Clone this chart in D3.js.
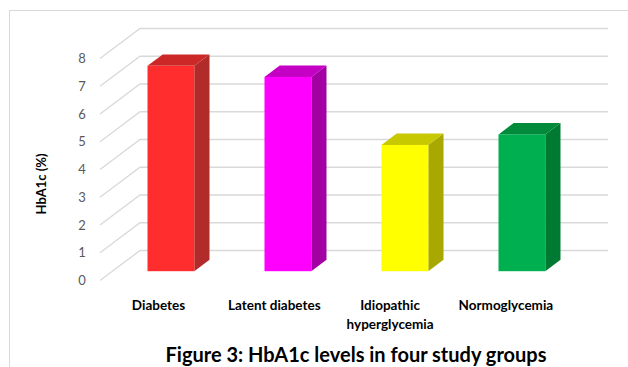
<!DOCTYPE html>
<html>
<head>
<meta charset="utf-8">
<script src="https://cdn.jsdelivr.net/npm/d3@7"></script>
<style>
  html, body { margin: 0; padding: 0; background: #fff; }
  svg { display: block; }
</style>
</head>
<body>
<svg id="chart" width="628" height="367"></svg>
<script>
// Data
const categories = ["Diabetes", "Latent diabetes", "Idiopathic\nhyperglycemia", "Normoglycemia"];
const hba1cValues = [7.4, 7.0, 4.55, 4.93];
const yTicks = [0, 1, 2, 3, 4, 5, 6, 7, 8];
const frontColors = ["#ff2d2d", "#ff00ff", "#ffff00", "#00b050"];
const sideColors  = ["#b22b2b", "#a300a3", "#a8a800", "#007a33"];
const topColors   = ["#cd2828", "#c400c4", "#c8c800", "#008a3a"];
const yAxisTitle = "HbA1c (%)";
const chartTitle = "Figure 3: HbA1c levels in four study groups";

const svg = d3.select("#chart");
const font = "Lato, 'Open Sans', sans-serif";

// Oblique 3D projection: depth shifts points right and up
const DX = 40, DY = -30;
const depthFront = 0.31, depthBack = 0.69;

const x = d3.scaleBand().domain(categories).range([100, 568]).paddingInner(0.6).paddingOuter(0.3);
const y = d3.scaleLinear().domain([0, 8]).range([280.5, 58.5]);

// Outer chart border
svg.append("rect")
  .attr("x", 9.5).attr("y", 10.5).attr("width", 700).attr("height", 400)
  .attr("fill", "none").attr("stroke", "#d9d9d9").attr("stroke-width", 1);

// Side-wall and back-wall gridlines
const grid = svg.append("g").attr("stroke", "#d9d9d9").attr("stroke-width", 1.3).attr("fill", "none");
yTicks.forEach(v => {
  const yf = y(v);
  grid.append("path")
    .attr("d", `M${x.range()[0]},${yf}L${x.range()[0] + DX},${yf + DY}L${x.range()[1] + DX},${yf + DY}`);
});

// Tick labels
svg.append("g").selectAll("text").data(yTicks).join("text")
  .attr("x", 82).attr("y", d => y(d)).attr("dy", "0.35em")
  .attr("text-anchor", "middle")
  .attr("font-family", font).attr("font-size", 13).attr("fill", "#595959")
  .text(d => d);

// 3D columns
const bars = svg.append("g");
categories.forEach((c, i) => {
  const v = hba1cValues[i];
  const ox = DX * depthFront, oy = DY * depthFront;
  const bx = DX * (depthBack - depthFront), by = DY * (depthBack - depthFront);
  const x0 = x(c) + ox, x1 = x0 + x.bandwidth();
  const yb = y(0) + oy, yt = y(v) + oy;
  // right side face
  bars.append("path")
    .attr("d", `M${x1},${yt}L${x1 + bx},${yt + by}L${x1 + bx},${yb + by}L${x1},${yb}Z`)
    .attr("fill", sideColors[i]);
  // top face
  bars.append("path")
    .attr("d", `M${x0},${yt}L${x0 + bx},${yt + by}L${x1 + bx},${yt + by}L${x1},${yt}Z`)
    .attr("fill", topColors[i]);
  // front face
  bars.append("rect")
    .attr("x", x0).attr("y", yt).attr("width", x.bandwidth()).attr("height", yb - yt)
    .attr("fill", frontColors[i]);
});

// Category labels
const catG = svg.append("g");
categories.forEach((c, i) => {
  const cx = x(c) + x.bandwidth() / 2 - i * 1.2;
  const lines = c.split("\n");
  const t = catG.append("text")
    .attr("x", cx)
    .attr("y", 310)
    .attr("text-anchor", "middle")
    .attr("font-family", font).attr("font-size", 13.5).attr("font-weight", "bold").attr("fill", "#000");
  lines.forEach((ln, k) => {
    t.append("tspan").attr("x", cx).attr("dy", k === 0 ? 0 : 19).text(ln);
  });
});

// Y-axis title
svg.append("text")
  .attr("transform", "translate(46,184) rotate(-90)")
  .attr("text-anchor", "middle")
  .attr("font-family", font).attr("font-size", 13).attr("font-weight", "bold").attr("fill", "#000")
  .text(yAxisTitle);

// Figure caption
svg.append("text")
  .attr("x", 356).attr("y", 362)
  .attr("text-anchor", "middle")
  .attr("font-family", font).attr("font-size", 20).attr("font-weight", "bold").attr("fill", "#000")
  .text(chartTitle);
</script>
</body>
</html>
